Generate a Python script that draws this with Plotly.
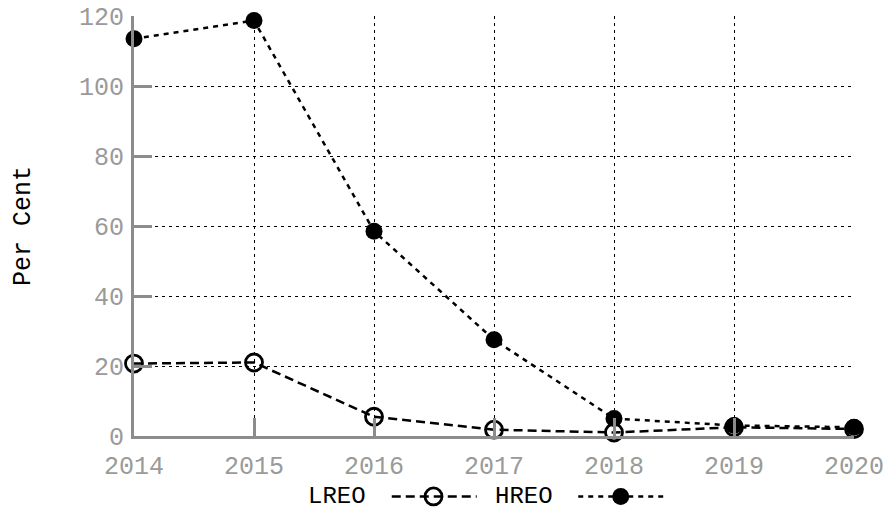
import plotly.graph_objects as go

# Series data
years = [2014, 2015, 2016, 2017, 2018, 2019, 2020]
lreo = [20.7, 21.0, 5.5, 1.8, 1.0, 2.5, 2.0]
hreo = [113.5, 118.7, 58.5, 27.5, 5.0, 3.0, 2.5]
y_ticks = [0, 20, 40, 60, 80, 100, 120]

FONT = "Liberation Mono, Courier New, monospace"
AXIS_GREY = "#8c8c8c"
LABEL_GREY = "#9a9a9a"

LREO_DASH = "9px,5px"
HREO_DASH = "5px,5px"

fig = go.Figure()

fig.add_trace(go.Scatter(
    x=years, y=lreo, name="LREO", mode="lines+markers",
    line=dict(color="black", width=2.5, dash=LREO_DASH),
    marker=dict(symbol="circle-open", size=17, color="black",
                line=dict(width=2.8, color="black")),
    cliponaxis=False, showlegend=False,
))
fig.add_trace(go.Scatter(
    x=years, y=hreo, name="HREO", mode="lines+markers",
    line=dict(color="black", width=2.5, dash=HREO_DASH),
    marker=dict(symbol="circle", size=17, color="black"),
    cliponaxis=False, showlegend=False,
))

# Legend row: text followed by a line sample with its marker
legend_items = [
    ("LREO", 0.282, (0.358, 0.476), 0.416, "circle-open", LREO_DASH, 2.8),
    ("HREO", 0.541, (0.617, 0.735), 0.676, "circle", HREO_DASH, 0),
]
for name, tx, (x0, x1), mx, sym, dash, mlw in legend_items:
    fig.add_trace(go.Scatter(
        x=[x0, mx, x1], y=[0.5, 0.5, 0.5], mode="lines",
        line=dict(color="black", width=2.5, dash=dash),
        xaxis="x2", yaxis="y2", showlegend=False, hoverinfo="skip",
    ))
    fig.add_trace(go.Scatter(
        x=[mx], y=[0.5], mode="markers",
        marker=dict(symbol=sym, size=17, color="black",
                    line=dict(width=mlw, color="black")),
        xaxis="x2", yaxis="y2", showlegend=False, hoverinfo="skip", cliponaxis=False,
    ))
    fig.add_annotation(
        x=tx, y=0.5, xref="x2", yref="y2", text=name, showarrow=False,
        font=dict(family=FONT, size=24, color="black"), xanchor="center",
        yanchor="middle", borderpad=0,
    )

fig.update_layout(
    width=889, height=530,
    margin=dict(l=134, r=35, t=16, b=20),
    paper_bgcolor="white", plot_bgcolor="white",
    font=dict(family=FONT, size=25, color=LABEL_GREY),
    xaxis=dict(
        range=[2014, 2020], tickvals=years, ticktext=[str(y) for y in years],
        showline=True, linecolor=AXIS_GREY, linewidth=3,
        ticks="inside", ticklen=18, tickwidth=3, tickcolor=AXIS_GREY,
        showgrid=True, gridcolor="black", gridwidth=1, griddash="3px,4px",
        zeroline=False, anchor="y", tickfont=dict(color=LABEL_GREY, size=25),
        ticklabelstandoff=5, automargin=False,
    ),
    yaxis=dict(
        range=[0, 120], tickvals=y_ticks, domain=[0.1498, 1],
        showline=True, linecolor=AXIS_GREY, linewidth=3,
        ticks="inside", ticklen=18, tickwidth=3, tickcolor=AXIS_GREY,
        showgrid=True, gridcolor="black", gridwidth=1, griddash="3px,4px",
        zeroline=False, tickfont=dict(color=LABEL_GREY, size=25),
        ticklabelstandoff=2, automargin=False,
        title=dict(text="Per Cent", font=dict(color="black", size=25), standoff=42),
    ),
    xaxis2=dict(domain=[0, 1], range=[0, 1], anchor="y2", visible=False),
    yaxis2=dict(domain=[0, 0.055], range=[0, 1], anchor="x2", visible=False),
    showlegend=False,
)

fig.write_html("out.html")
